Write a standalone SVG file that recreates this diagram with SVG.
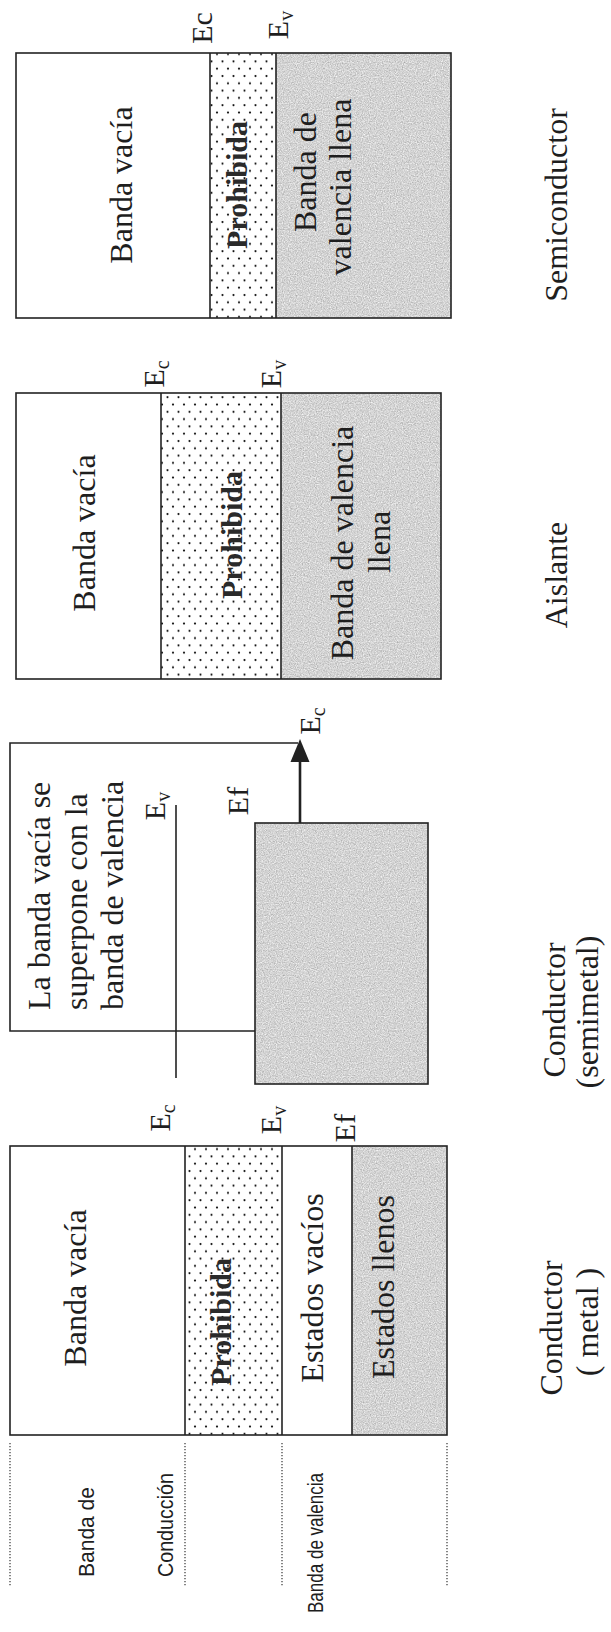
<svg xmlns="http://www.w3.org/2000/svg" width="611" height="1632" viewBox="0 0 611 1632">
<style>
text{font-family:"Liberation Serif","Times New Roman",serif;fill:#1e1e1e;text-anchor:middle}
.t{font-size:32px}
.e{font-size:30px}
.b{font-size:30px;font-weight:bold;fill:#2a2a2a}
.s{font-family:"Liberation Sans",Arial,sans-serif;font-size:22px}
.box{fill:none;stroke:#222;stroke-width:1.6}
.ln{stroke:#222;stroke-width:1.6;fill:none}
.gray{fill:#b0b0b0;filter:url(#grain)}
.dotl{stroke:#444;stroke-width:1.3;stroke-dasharray:1.3 1.7}
</style>
<defs>
<pattern id="dots" patternUnits="userSpaceOnUse" width="11" height="14.6">
<rect width="11" height="14.6" fill="#fff"/>
<circle cx="2.5" cy="3" r="1.1" fill="#111"/>
<circle cx="8" cy="10.3" r="1.1" fill="#111"/>
</pattern>
<filter id="grain" x="0" y="0" width="1" height="1" color-interpolation-filters="sRGB">
<feTurbulence type="fractalNoise" baseFrequency="0.85" numOctaves="2" seed="4" result="n"/>
<feColorMatrix in="n" type="saturate" values="0" result="g"/>
<feComponentTransfer in="g" result="g2">
<feFuncR type="linear" slope="0.5" intercept="0.58"/>
<feFuncG type="linear" slope="0.5" intercept="0.58"/>
<feFuncB type="linear" slope="0.5" intercept="0.58"/>
<feFuncA type="linear" slope="0" intercept="1"/>
</feComponentTransfer>
<feComposite in="g2" in2="SourceGraphic" operator="in"/>
</filter>
</defs>
<rect width="611" height="1632" fill="#fff"/>

<g id="semiconductor">
<rect x="16" y="53" width="194" height="265" fill="#fff"/>
<rect x="210" y="53" width="66" height="265" fill="url(#dots)"/>
<rect x="276" y="53" width="175" height="265" class="gray"/>
<rect x="16" y="53" width="435" height="265" class="box"/>
<line x1="210" y1="53" x2="210" y2="318" class="ln"/>
<line x1="276" y1="53" x2="276" y2="318" class="ln"/>
<text class="e" transform="translate(212,28) rotate(-90)">Ec</text>
<text class="e" transform="translate(288,25) rotate(-90)">E<tspan font-size="20" dy="5">v</tspan></text>
<text class="t" transform="translate(132,185) rotate(-90)">Banda vacía</text>
<text class="b" transform="translate(247,185) rotate(-90)">Prohibida</text>
<text class="t" transform="translate(316,172) rotate(-90)">Banda de</text>
<text class="t" transform="translate(351,187) rotate(-90)">valencia llena</text>
<text class="t" transform="translate(567,205) rotate(-90)">Semiconductor</text>
</g>

<g id="aislante">
<rect x="16" y="393" width="145" height="286" fill="#fff"/>
<rect x="161" y="393" width="120" height="286" fill="url(#dots)"/>
<rect x="281" y="393" width="160" height="286" class="gray"/>
<rect x="16" y="393" width="425" height="286" class="box"/>
<line x1="161" y1="393" x2="161" y2="679" class="ln"/>
<line x1="281" y1="393" x2="281" y2="679" class="ln"/>
<text class="e" transform="translate(164,374) rotate(-90)">E<tspan font-size="20" dy="5">c</tspan></text>
<text class="e" transform="translate(281,374) rotate(-90)">E<tspan font-size="20" dy="5">v</tspan></text>
<text class="t" transform="translate(95,533) rotate(-90)">Banda vacía</text>
<text class="b" transform="translate(242,535) rotate(-90)">Prohibida</text>
<text class="t" transform="translate(353,543) rotate(-90)">Banda de valencia</text>
<text class="t" transform="translate(390,542) rotate(-90)">llena</text>
<text class="t" transform="translate(567,575) rotate(-90)">Aislante</text>
</g>

<g id="semimetal">
<rect x="255" y="823" width="173" height="261" class="gray"/>
<rect x="255" y="823" width="173" height="261" class="box"/>
<path d="M298 743 H10 V1031 H255" class="ln"/>
<line x1="176" y1="805" x2="176" y2="1078" class="ln"/>
<text class="t" style="text-anchor:start" transform="translate(50,1010) rotate(-90)">La banda vacía se</text>
<text class="t" style="text-anchor:start" transform="translate(87,1010) rotate(-90)">superpone con la</text>
<text class="t" style="text-anchor:start" transform="translate(123,1010) rotate(-90)">banda de valencia</text>
<text class="e" transform="translate(165,806) rotate(-90)">E<tspan font-size="20" dy="5">v</tspan></text>
<text class="e" transform="translate(248,801) rotate(-90)">Ef</text>
<text class="e" transform="translate(320,721) rotate(-90)">E<tspan font-size="20" dy="5">c</tspan></text>
<text class="t" transform="translate(565,1010) rotate(-90)">Conductor</text>
<text class="t" transform="translate(598,1012) rotate(-90)">(semimetal)</text>
</g>

<g id="metal">
<rect x="10" y="1146" width="175" height="289" fill="#fff"/>
<rect x="185" y="1146" width="97" height="289" fill="url(#dots)"/>
<rect x="352" y="1146" width="95" height="289" class="gray"/>
<rect x="10" y="1146" width="437" height="289" class="box"/>
<line x1="185" y1="1146" x2="185" y2="1435" class="ln"/>
<line x1="282" y1="1146" x2="282" y2="1435" class="ln"/>
<line x1="352" y1="1146" x2="352" y2="1435" class="ln"/>
<text class="e" transform="translate(170,1118) rotate(-90)">E<tspan font-size="20" dy="5">c</tspan></text>
<text class="e" transform="translate(281,1120) rotate(-90)">E<tspan font-size="20" dy="5">v</tspan></text>
<text class="e" transform="translate(355,1128) rotate(-90)">Ef</text>
<text class="t" transform="translate(86,1288) rotate(-90)">Banda vacía</text>
<text class="b" transform="translate(231,1322) rotate(-90)">Prohibida</text>
<text class="t" transform="translate(323,1288) rotate(-90)">Estados vacíos</text>
<text class="t" transform="translate(394,1287) rotate(-90)">Estados llenos</text>
<text class="t" transform="translate(562,1328) rotate(-90)">Conductor</text>
<text class="t" transform="translate(598,1322) rotate(-90)">( metal )</text>
</g>

<g id="band-labels">
<line x1="10" y1="1443" x2="10" y2="1587" class="dotl"/>
<line x1="185" y1="1443" x2="185" y2="1587" class="dotl"/>
<line x1="282" y1="1443" x2="282" y2="1587" class="dotl"/>
<line x1="447" y1="1443" x2="447" y2="1587" class="dotl"/>
<text class="s" textLength="90" lengthAdjust="spacingAndGlyphs" transform="translate(94,1532) rotate(-90)">Banda  de</text>
<text class="s" textLength="104" lengthAdjust="spacingAndGlyphs" transform="translate(173,1525) rotate(-90)">Conducción</text>
<text class="s" textLength="140" lengthAdjust="spacingAndGlyphs" transform="translate(323,1543) rotate(-90)">Banda de valencia</text>
</g>

<g id="connectors">
<line x1="300" y1="823" x2="300" y2="758" stroke="#222" stroke-width="2.6"/>
<polygon points="300,739 290.5,762 309.5,762" fill="#222"/>
</g>
</svg>
